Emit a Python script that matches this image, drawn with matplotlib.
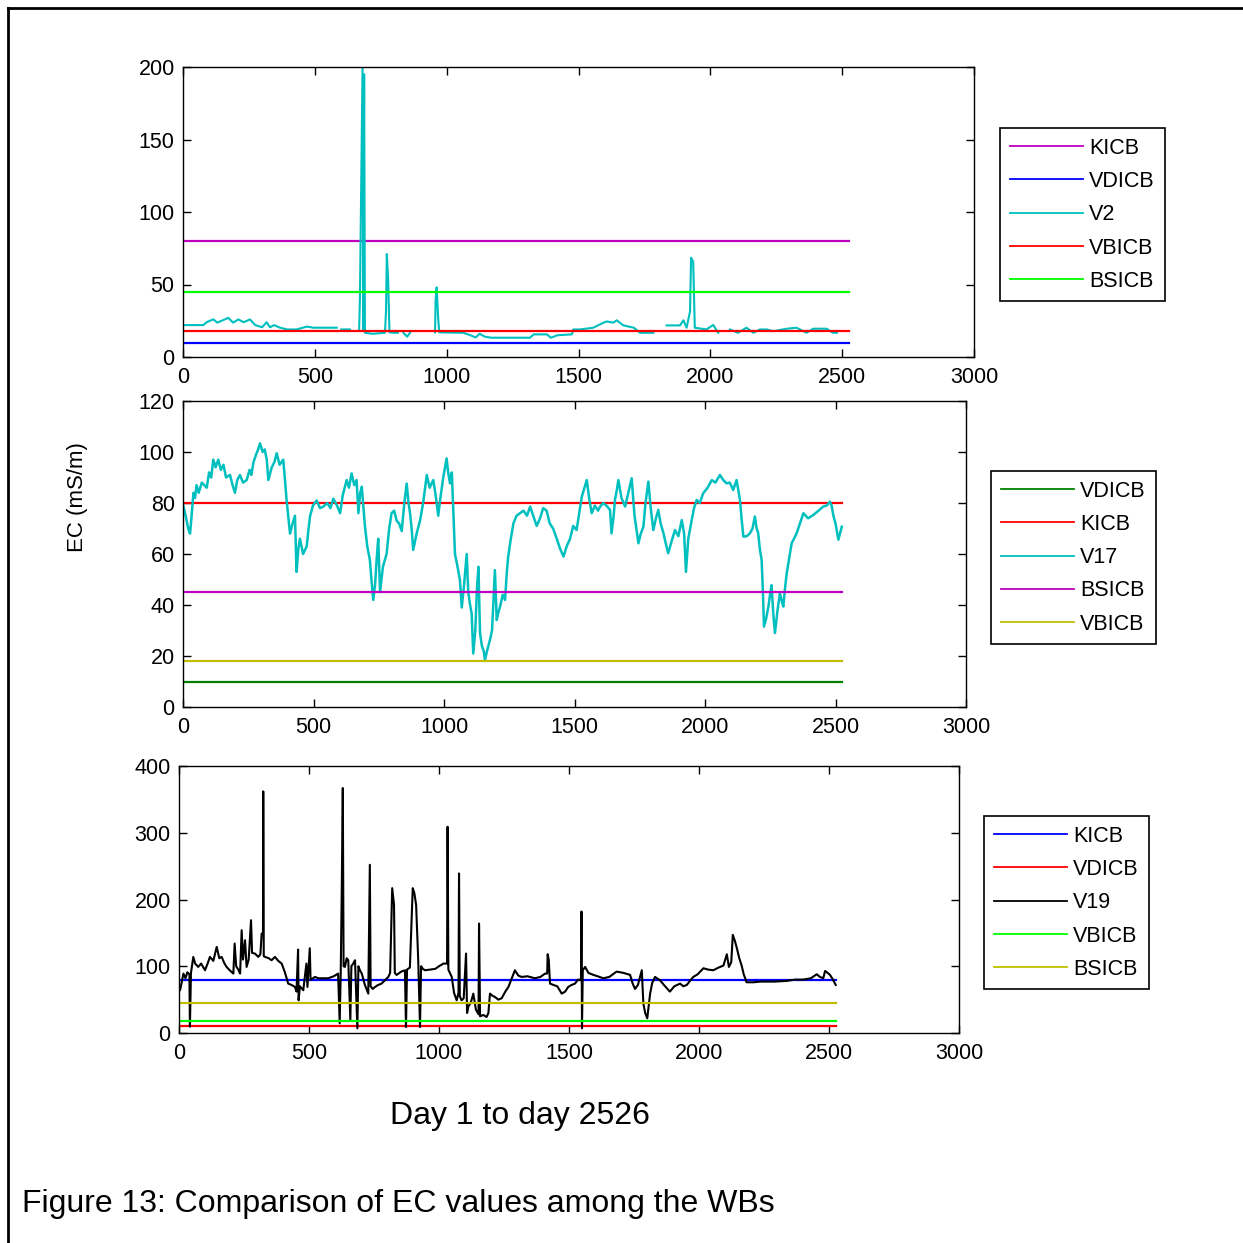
import numpy as np
import matplotlib
matplotlib.use("Agg")
import matplotlib.pyplot as plt
from matplotlib.lines import Line2D

plt.rcParams['font.family'] = ['Liberation Sans', 'DejaVu Sans']

nan = np.nan
N_DAYS = 2526
x_ticks = [0, 500, 1000, 1500, 2000, 2500, 3000]

# Guideline (standard) values
KICB = 80
BSICB = 45
VBICB = 18
VDICB = 10

# ---- Panel 1 : V2 (day, EC) ----
v2_points = [
    (0, 22), (77, 22), (90, 24), (115, 26), (130, 23.7), (172, 27), (190, 23.7), (210, 25.9), (230, 24),
    (254, 25.9), (274, 22), (300, 20.5), (317, 24), (330, 20.5), (345, 22), (368, 20.2), (395, 19), (431, 19),
    (470, 21), (494, 20.2), (583, 20.2), (590, nan), (600, 19), (633, 19), (650, nan), (668, 19), (671, 40),
    (681, 200), (684, 19), (687, 195), (690, 16.7), (720, 16), (766, 16.7), (770, 31.7), (773, 71), (778, 54),
    (783, 17), (798, 16.7), (815, 16.7), (825, nan), (836, 16.7), (850, 14), (861, 16.7), (900, nan),
    (956, 17), (958, 39), (962, 48), (968, 26), (972, 17), (1063, 16.7), (1090, 15), (1110, 13.5), (1125, 16),
    (1145, 14), (1170, 13.3), (1316, 13.3), (1330, 15.6), (1380, 15.6), (1395, 13.3), (1420, 15), (1475, 15.6),
    (1480, 19), (1505, 19), (1556, 20.2), (1595, 23.7), (1607, 24.5), (1632, 23.7), (1645, 25.3), (1670, 21.8),
    (1710, 20.2), (1733, 16.7), (1784, 16.7), (1800, nan), (1834, 21.8), (1885, 21.8), (1898, 25.3),
    (1910, 20.2), (1923, 31.5), (1927, 68.5), (1935, 65.7), (1941, 20.2), (1985, 19), (2011, 22.1),
    (2030, 16.7), (2050, nan), (2074, 19), (2105, 16.7), (2137, 20.2), (2163, 16.7), (2188, 19), (2214, 19),
    (2239, 17.8), (2290, 19.5), (2327, 20.2), (2365, 16.7), (2390, 19.5), (2441, 19.5), (2465, 16.7),
    (2480, 16.7)]
v2_day = [p[0] for p in v2_points]
v2_val = [p[1] for p in v2_points]

# ---- Panel 2 : V17 (day, EC) ----
v17_points = [
    (1, 79), (8, 76), (14, 73), (20, 70), (27, 68), (33, 75), (40, 84), (46, 82), (52, 87), (60, 84), (72, 88),
    (91, 86), (100, 92), (108, 90), (116, 97), (125, 94), (135, 97), (145, 93), (155, 95), (165, 90), (180, 91),
    (190, 87), (199, 84), (208, 89), (218, 91), (230, 88), (244, 89), (255, 93), (262, 91), (270, 96),
    (280, 99), (288, 101), (295, 103.4), (305, 100), (313, 101), (321, 97), (327, 89), (340, 94), (350, 96),
    (359, 99.5), (370, 95), (384, 97), (390, 90), (397, 81), (404, 74), (410, 68), (420, 72), (429, 75),
    (435, 53), (442, 62), (448, 66), (460, 60), (474, 63), (480, 69), (487, 75), (498, 79), (512, 81),
    (525, 78), (538, 78.6), (552, 80), (565, 78), (576, 81.7), (590, 79), (602, 76), (612, 83), (627, 89),
    (636, 86), (646, 91.6), (656, 87), (665, 89), (672, 76), (679, 84), (685, 86.4), (697, 71), (706, 63),
    (716, 57.6), (722, 50), (729, 42), (736, 48), (742, 58), (748, 66), (755, 45), (766, 55), (780, 60),
    (790, 70), (799, 76), (809, 77), (819, 73), (828, 72), (838, 69), (848, 80), (857, 87.6), (864, 80),
    (870, 76), (876, 70), (882, 61.6), (895, 68), (908, 73), (920, 80), (934, 91), (945, 86), (959, 89),
    (968, 83), (978, 75), (985, 81), (997, 90), (1010, 97.5), (1016, 92), (1023, 87.7), (1030, 92),
    (1036, 76), (1042, 60), (1050, 56), (1061, 49.8), (1068, 39), (1077, 48), (1087, 60), (1093, 45),
    (1100, 40), (1106, 36.7), (1112, 21), (1120, 30), (1126, 46), (1132, 55), (1138, 29), (1145, 24),
    (1152, 22), (1157, 18.4), (1165, 22), (1176, 26.3), (1184, 30), (1195, 53.7), (1202, 34.1), (1208, 37),
    (1215, 39.4), (1225, 44), (1234, 42), (1240, 52), (1246, 59), (1256, 66), (1266, 72), (1278, 75),
    (1291, 76), (1305, 77), (1318, 75), (1330, 78.6), (1342, 75), (1355, 71), (1368, 74), (1380, 78),
    (1393, 77), (1405, 72), (1418, 70), (1432, 66), (1445, 62), (1458, 59), (1470, 63), (1483, 66),
    (1495, 71), (1508, 69.4), (1518, 76), (1528, 82.5), (1538, 86), (1547, 89), (1556, 82), (1566, 76),
    (1578, 79), (1590, 77), (1598, 78.6), (1610, 80), (1622, 79), (1636, 77.3), (1642, 68.1), (1650, 75),
    (1655, 81.2), (1662, 85), (1668, 89), (1680, 82), (1694, 78.6), (1706, 84), (1719, 89.7), (1730, 75),
    (1745, 64.2), (1754, 68), (1764, 70.7), (1772, 80), (1783, 88.4), (1792, 78), (1802, 69.4), (1812, 74),
    (1821, 77.3), (1830, 72), (1841, 68.1), (1850, 64), (1859, 60.3), (1872, 65), (1885, 69.4), (1898, 67),
    (1911, 73.3), (1920, 68), (1927, 53), (1936, 66), (1949, 73.3), (1958, 78), (1968, 81.2), (1980, 80),
    (1993, 83.8), (2010, 86), (2026, 89), (2040, 88), (2057, 91), (2070, 89), (2083, 87.7), (2095, 88),
    (2108, 85.1), (2121, 89), (2134, 81.2), (2140, 74), (2147, 66.8), (2160, 67), (2172, 68.1), (2182, 70),
    (2191, 74.7), (2198, 70), (2204, 68.1), (2210, 62), (2217, 57.6), (2222, 45), (2226, 31.5), (2235, 35),
    (2243, 39.4), (2249, 44), (2255, 47.8), (2262, 36), (2268, 29), (2278, 38), (2287, 44.5), (2293, 42),
    (2300, 39.4), (2306, 46), (2313, 52.4), (2322, 58), (2332, 64.2), (2341, 66), (2351, 68.1), (2364, 72),
    (2377, 76), (2395, 74), (2415, 75.3), (2435, 77), (2453, 78.6), (2466, 79), (2479, 80.5), (2485, 79),
    (2492, 75), (2500, 72), (2511, 65.6), (2517, 68), (2524, 70.7)]
v17_day = [p[0] for p in v17_points]
v17_val = [p[1] for p in v17_points]

# ---- Panel 3 : V19 (day, EC) ----
v19_points = [
    (0, 64), (4, 64), (10, 75), (17, 89), (25, 82), (32, 91), (40, 88), (42, 9.5), (46, 90), (55, 114), (62, 104),
    (74, 99), (85, 104), (100, 94), (110, 104), (119, 114), (132, 108), (145, 129), (155, 112), (164, 114),
    (175, 104), (183, 99), (195, 94), (209, 89), (214, 134), (220, 100), (228, 95), (235, 89), (241, 154),
    (246, 110), (254, 139), (260, 99), (268, 110), (277, 169), (281, 120), (292, 119), (305, 114), (313, 118),
    (318, 149), (323, 149), (324, 362), (326, 115), (331, 114), (345, 112), (356, 109), (369, 114), (382, 108),
    (395, 104), (408, 90), (420, 74), (433, 72), (446, 69), (452, 62), (458, 125), (460, 49), (465, 70),
    (478, 64), (490, 104), (494, 69), (503, 127), (506, 80), (515, 82), (523, 84), (536, 82), (555, 82),
    (574, 82), (595, 85), (612, 89), (618, 14.5), (622, 90), (626, 214), (630, 367), (633, 100), (638, 99),
    (645, 112), (651, 109), (659, 19.5), (663, 100), (670, 104), (677, 109), (686, 7), (690, 100), (696, 94),
    (703, 89), (715, 72), (728, 59), (734, 252), (737, 70), (745, 66), (754, 69), (766, 72), (779, 74),
    (792, 79), (805, 84), (812, 90), (820, 217), (827, 192), (830, 90), (837, 87), (844, 89), (855, 92),
    (869, 94), (873, 9), (877, 95), (888, 98), (899, 217), (905, 210), (912, 192), (920, 110), (927, 9),
    (931, 100), (938, 96), (946, 94), (965, 95), (985, 96), (1000, 100), (1017, 104), (1031, 104),
    (1033, 309), (1036, 95), (1042, 90), (1049, 84), (1058, 60), (1068, 49), (1075, 60), (1077, 239),
    (1080, 55), (1087, 49), (1095, 52), (1104, 119), (1108, 30), (1113, 40), (1122, 45), (1132, 59),
    (1142, 35), (1152, 28), (1154, 164), (1158, 25), (1170, 27), (1183, 24), (1190, 30), (1196, 59),
    (1205, 56), (1215, 54), (1228, 50), (1241, 52), (1255, 62), (1267, 69), (1280, 82), (1292, 94),
    (1305, 86), (1318, 84), (1340, 85), (1369, 82), (1390, 84), (1408, 89), (1416, 89), (1418, 118),
    (1422, 110), (1427, 74), (1440, 72), (1455, 70), (1472, 59), (1485, 62), (1497, 69), (1510, 72),
    (1523, 74), (1535, 80), (1546, 79), (1548, 182), (1550, 7), (1553, 94), (1562, 99), (1575, 90),
    (1594, 87), (1610, 85), (1632, 82), (1655, 84), (1683, 92), (1710, 90), (1735, 87), (1745, 74),
    (1754, 66), (1765, 72), (1780, 94), (1786, 44), (1793, 30), (1801, 22), (1812, 59), (1820, 75),
    (1831, 84), (1850, 79), (1865, 72), (1888, 62), (1905, 70), (1927, 74), (1940, 70), (1953, 72),
    (1965, 78), (1978, 84), (1995, 88), (2017, 97), (2035, 95), (2055, 94), (2075, 98), (2094, 101),
    (2107, 118), (2115, 99), (2124, 106), (2130, 147), (2138, 138), (2145, 128), (2155, 112), (2164, 101),
    (2172, 88), (2183, 76), (2210, 76), (2235, 77), (2290, 77), (2337, 78), (2370, 80), (2401, 80),
    (2430, 82), (2453, 88), (2465, 84), (2478, 82), (2485, 93), (2495, 90), (2504, 87), (2515, 80),
    (2526, 72)]
v19_day = [p[0] for p in v19_points]
v19_val = [p[1] for p in v19_points]

# MATLAB-like colours
C_MAG = (0.75, 0.0, 0.75)
C_CYAN = (0.0, 0.75, 0.75)
C_YEL = (0.75, 0.75, 0.0)
C_DGREEN = (0.0, 0.5, 0.0)
C_GREEN = (0.0, 1.0, 0.0)
C_RED = (1.0, 0.0, 0.0)
C_BLUE = (0.0, 0.0, 1.0)

W = H = 1243
fig = plt.figure(figsize=(12.43, 12.43), dpi=100)

def frac_box(l, t, r, b):
    return [l / W, 1 - b / H, (r - l) / W, (b - t) / H]

TICK_FS = 15.5

def style_axes(ax, ylim, yticks):
    ax.set_xlim(0, 3000)
    ax.set_ylim(*ylim)
    ax.set_xticks(x_ticks)
    ax.set_yticks(yticks)
    ax.tick_params(direction='in', top=True, right=True, length=6, width=1.0,
                   labelsize=TICK_FS, pad=7.5)
    ax.tick_params(axis='y', pad=6)
    for s in ax.spines.values():
        s.set_linewidth(1.0)
        s.set_color('black')

def hline(ax, val, color, label):
    ax.plot([1, N_DAYS], [val, val], color=color, lw=1.6, label=label)

def legend(ax, x, y):
    leg = ax.legend(loc='upper left', bbox_to_anchor=(x / W, 1 - y / H), bbox_transform=fig.transFigure,
                    fontsize=TICK_FS, frameon=True, fancybox=False, edgecolor='black', framealpha=1,
                    handlelength=3.4, handletextpad=0.3, labelspacing=0.57, borderpad=0.45,
                    borderaxespad=0)
    leg.get_frame().set_linewidth(1.2)
    for h in leg.get_lines():
        h.set_linewidth(1.3)

# Panel 1
ax1 = fig.add_axes(frac_box(183, 67, 974, 357))
hline(ax1, KICB, C_MAG, 'KICB')
hline(ax1, VDICB, C_BLUE, 'VDICB')
ax1.plot(v2_day, v2_val, color=C_CYAN, lw=1.5, label='V2')
hline(ax1, VBICB, C_RED, 'VBICB')
hline(ax1, BSICB, C_GREEN, 'BSICB')
style_axes(ax1, (0, 200), [0, 50, 100, 150, 200])
legend(ax1, 1000, 128)

# Panel 2
ax2 = fig.add_axes(frac_box(183, 401, 966, 707))
hline(ax2, VDICB, C_DGREEN, 'VDICB')
hline(ax2, KICB, C_RED, 'KICB')
ax2.plot(v17_day, v17_val, color=C_CYAN, lw=1.8, label='V17')
hline(ax2, BSICB, C_MAG, 'BSICB')
hline(ax2, VBICB, C_YEL, 'VBICB')
style_axes(ax2, (0, 120), [0, 20, 40, 60, 80, 100, 120])
legend(ax2, 991, 471)

# Panel 3
ax3 = fig.add_axes(frac_box(179, 766, 959, 1033))
hline(ax3, KICB, C_BLUE, 'KICB')
hline(ax3, VDICB, C_RED, 'VDICB')
ax3.plot(v19_day, v19_val, color='black', lw=1.5, label='V19')
hline(ax3, VBICB, C_GREEN, 'VBICB')
hline(ax3, BSICB, C_YEL, 'BSICB')
style_axes(ax3, (0, 400), [0, 100, 200, 300, 400])
legend(ax3, 984, 816)

# Labels
fig.text(78 / W, 1 - 497 / H, 'EC (mS/m)', rotation=90, ha='center', va='center', fontsize=16)
fig.text(520 / W, 1 - 1116 / H, 'Day 1 to day 2526', ha='center', va='center', fontsize=23)
fig.text(22 / W, 1 - 1204 / H, 'Figure 13: Comparison of EC values among the WBs', ha='left', va='center',
         fontsize=23)

# Outer frame (top and left)
fig.add_artist(Line2D([8 / W, 8 / W], [0, 1 - 8 / H], transform=fig.transFigure, color='black', lw=2))
fig.add_artist(Line2D([8 / W, 1], [1 - 8 / H, 1 - 8 / H], transform=fig.transFigure, color='black', lw=2))

fig.savefig('out.png', dpi=100)
